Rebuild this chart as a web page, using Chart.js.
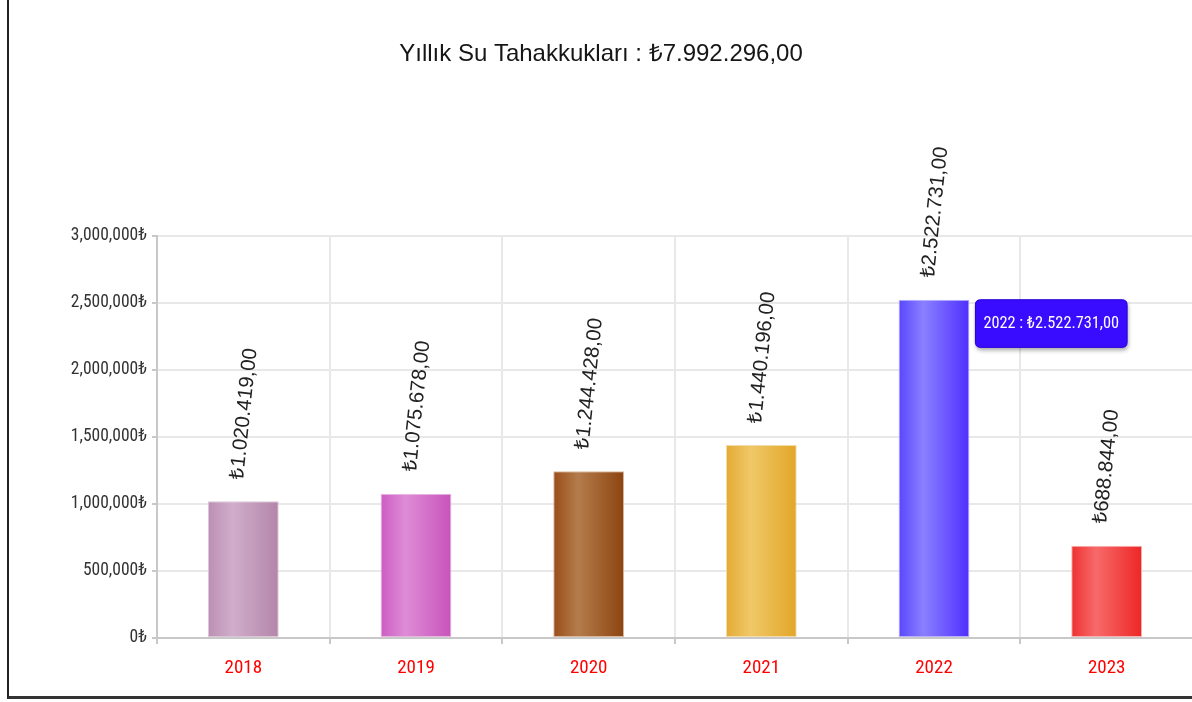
<!DOCTYPE html>
<html lang="tr">
<head>
  <meta charset="UTF-8">
  <title>Yıllık Su Tahakkukları</title>
  <script src="https://cdn.jsdelivr.net/npm/chart.js"></script>
  <style>
    html, body{
      margin: 0;
      padding: 0;
      background: #fff;
      overflow: hidden;
    }
    #frame{
      position: absolute;
      left: 7px;
      top: 0;
      width: 1249px;
      height: 696px;
      border-left: 2px solid #222;
      border-bottom: 3px solid #333;
    }
    #yearChart{
      display: block;
    }
  </style>
</head>
<body>
  <div id="frame">
    <canvas id="yearChart" width="1249" height="696"></canvas>
  </div>

<script>
  // values
  const years = ['2018', '2019', '2020', '2021', '2022', '2023'];
  const amounts = [1020419, 1075678, 1244428, 1440196, 2522731, 688844];
  const yTicks = [0, 500000, 1000000, 1500000, 2000000, 2500000, 3000000];
  const activeYear = '2022';

  // bar colours: left edge, light band, right edge, outline
  const barShades = [
    ['#bb8fb3', '#d0aeca', '#b385a9', '#dcc6d8'],
    ['#cc5cc3', '#de8cd6', '#c853bb', '#e8b6e2'],
    ['#9a4d18', '#b47c4c', '#8c440f', '#d8b89c'],
    ['#e2aa34', '#f0c868', '#e2a628', '#f4dca8'],
    ['#5846ff', '#8a80ff', '#4f2fff', '#b8b0ff'],
    ['#ee3030', '#f76a6a', '#ed2626', '#f8b0b0']
  ];

  // Roboto has a width axis, "condensed" goes into the font shorthand via weight
  const narrow = (size) => ({ family: 'Roboto', size: size, weight: 'condensed' });
  const plain = "'Liberation Sans', Arial, sans-serif";

  function lira(v) {
    const parts = v.toFixed(2).split('.');
    return '₺' + parts[0].replace(/\B(?=(\d{3})+(?!\d))/g, '.') + ',' + parts[1];
  }

  function axisMoney(v) {
    return String(v).replace(/\B(?=(\d{3})+(?!\d))/g, ',') + '₺';
  }

  const total = amounts.reduce((a, b) => a + b, 0);

  function barFill(ctx) {
    const chart = ctx.chart;
    const shade = barShades[ctx.dataIndex];
    const xs = chart.scales.x;
    if (!chart.chartArea || !xs) return shade[0];
    const cx = xs.getPixelForValue(ctx.dataIndex);
    const half = 35.5;
    const g = chart.ctx.createLinearGradient(cx - half, 0, cx + half, 0);
    g.addColorStop(0, shade[0]);
    g.addColorStop(0.35, shade[1]);
    g.addColorStop(1, shade[2]);
    return g;
  }

  // rotated value labels above the bars
  const valueLabels = {
    id: 'valueLabels',
    afterDatasetsDraw(chart) {
      const ctx = chart.ctx;
      const meta = chart.getDatasetMeta(0);
      ctx.save();
      ctx.font = '20.5px ' + plain;
      ctx.fillStyle = '#222';
      ctx.textAlign = 'left';
      ctx.textBaseline = 'middle';
      meta.data.forEach((bar, i) => {
        ctx.save();
        ctx.translate(bar.x - 6, bar.y - 22);
        ctx.rotate(-84 * Math.PI / 180);
        ctx.fillText(lira(amounts[i]), 0, 0);
        ctx.restore();
      });
      ctx.restore();
    }
  };

  // soft shadow under the tooltip box
  const tipShadow = {
    id: 'tipShadow',
    beforeTooltipDraw(chart, args) {
      const tip = args.tooltip;
      if (!tip.opacity) return;
      const ctx = chart.ctx;
      ctx.save();
      ctx.shadowColor = 'rgba(0,0,0,0.35)';
      ctx.shadowBlur = 4;
      ctx.shadowOffsetX = 1;
      ctx.shadowOffsetY = 3;
      ctx.fillStyle = '#3a10ff';
      ctx.beginPath();
      ctx.roundRect(tip.x, tip.y, tip.width, tip.height, 5);
      ctx.fill();
      ctx.restore();
    }
  };

  Chart.Tooltip.positioners.barSide = function(items) {
    if (!items.length) return false;
    const el = items[0].element;
    return { x: el.x + el.width / 2 + 6 + 5, y: el.y, xAlign: 'left', yAlign: 'top' };
  };

  const ctx = document.getElementById('yearChart').getContext('2d');
  const yearChart = new Chart(ctx, {
    type: 'bar',
    data: {
      labels: years,
      datasets: [{
        label: 'Tahakkuk',
        data: amounts,
        backgroundColor: barFill,
        borderColor: barShades.map(s => s[3]),
        borderWidth: 1,
        borderSkipped: false,
        categoryPercentage: 1,
        barPercentage: 0.41
      }]
    },
    options: {
      responsive: false,
      animation: false,
      events: [],
      layout: { padding: { left: 0, right: 65, top: 0, bottom: 0 } },
      plugins: {
        legend: { display: false },
        title: {
          display: true,
          text: 'Yıllık Su Tahakkukları : ' + lira(total),
          color: '#161616',
          font: { family: plain, size: 24, weight: 'normal', lineHeight: 1.2 },
          padding: { top: 40, bottom: 167 }
        },
        tooltip: {
          position: 'barSide',
          backgroundColor: '#3a0cff',
          borderColor: '#2a00d8',
          borderWidth: 1,
          cornerRadius: 5,
          caretSize: 0,
          caretPadding: 0,
          displayColors: false,
          padding: { x: 8, y: 14 },
          bodyColor: '#fff',
          bodyFont: narrow(16.3),
          callbacks: {
            title: () => '',
            label: (item) => item.label + ' : ' + lira(item.raw)
          }
        }
      },
      scales: {
        x: {
          afterFit: (s) => { s.height = 58; },
          grid: { color: '#e8e8e8', lineWidth: 2, tickColor: '#c8c8c8', tickLength: 6, offset: true },
          border: { color: '#c8c8c8', width: 2 },
          ticks: { color: '#ff0000', padding: 13, font: narrow(19) }
        },
        y: {
          min: 0,
          max: 3000000,
          afterFit: (s) => { s.width = 148; },
          afterBuildTicks: (s) => { s.ticks = yTicks.map(v => ({ value: v })); },
          grid: { color: '#e8e8e8', lineWidth: 2, tickColor: '#c8c8c8', tickLength: 5 },
          border: { color: '#c8c8c8', width: 2 },
          ticks: { color: '#333', padding: 5, font: narrow(17.5), callback: (v) => axisMoney(v) }
        }
      }
    },
    plugins: [valueLabels, tipShadow]
  });

  const idx = years.indexOf(activeYear);
  yearChart.tooltip.setActiveElements([{ datasetIndex: 0, index: idx }], { x: 0, y: 0 });
  yearChart.update();
</script>
</body>
</html>
